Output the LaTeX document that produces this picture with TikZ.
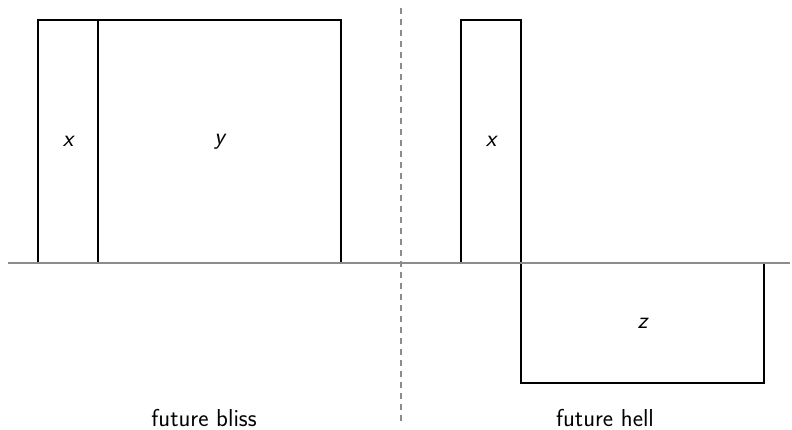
\documentclass[tikz,border=0pt]{standalone}
\renewcommand{\familydefault}{\sfdefault}
\begin{document}
\begin{tikzpicture}[x=1pt,y=-1pt,
  box/.style={draw=black,line width=2pt,minimum width=#1,inner sep=0pt,outer sep=0pt,font=\fontsize{24}{28}\selectfont\itshape},
  axis/.style={draw=gray!90,line width=2pt},
  divider/.style={draw=gray!90,line width=1.5pt,dash pattern=on 6pt off 5pt},
  caption/.style={anchor=base,inner sep=0pt,font=\fontsize{24.5}{29}\selectfont}]
\useasboundingbox (0,0) rectangle (792,430);
\node[box=60pt,minimum height=243pt] (x1) at (68,141.5) {x};
\node[box=243pt,minimum height=243pt] (y1) at (219.5,141.5) {y};
\node[box=60pt,minimum height=243pt] (x2) at (491,141.5) {x};
\node[box=243pt,minimum height=120pt] (z2) at (642.5,323) {z};
\coordinate (la) at (8,263);
\coordinate (lb) at (790,263);
\coordinate (da) at (401,8);
\coordinate (db) at (401,425);
\draw[axis] (la) -- (lb);
\draw[divider] (da) -- (db);
\node[caption] (c1) at (204,426) {future bliss};
\node[caption] (c2) at (605,426) {future hell};
\end{tikzpicture}
\end{document}
